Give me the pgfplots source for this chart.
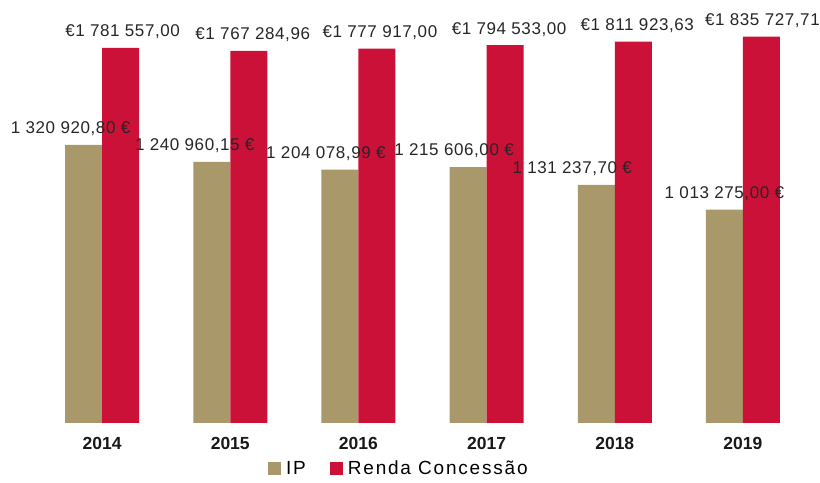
\documentclass[border=0pt]{standalone}
\usepackage{fontspec}
\setmainfont{Liberation Sans}
\newfontfamily\lblfont[LetterSpace=3.5]{Liberation Sans}
\newfontfamily\legfont[LetterSpace=9.5]{Liberation Sans}
\usepackage{pgfplots}
\usepackage{pgfplotstable}
\pgfplotsset{compat=1.18}
\definecolor{iptan}{HTML}{A8986A}
\definecolor{rendared}{HTML}{CC1139}

\pgfplotstableread[col sep=semicolon]{
x;y;lab;dx
0;1320920.80;1 320 920,80 €;-13
1;1240960.15;1 240 960,15 €;-17
2;1204078.99;1 204 078,99 €;-14
3;1215606.00;1 215 606,00 €;-14
4;1131237.70;1 131 237,70 €;-24
5;1013275.00;1 013 275,00 €;0
}\ipdata

\pgfplotstableread[col sep=semicolon]{
x;y;lab;dx
0;1781557.00;€1 781 557,00;2
1;1767284.96;€1 767 284,96;4
2;1777917.00;€1 777 917,00;3
3;1794533.00;€1 794 533,00;4
4;1811923.63;€1 811 923,63;4
5;1835727.71;€1 835 727,71;1
}\rendadata

\begin{document}
\begin{tikzpicture}
\begin{axis}[
  scale only axis,
  width=769pt, height=421pt,
  xmin=-0.5, xmax=5.5,
  ymin=0, ymax=2000000,
  ybar=0pt, bar width=37pt,
  axis line style={draw=none},
  ytick=\empty,
  xtick={0,1,2,3,4,5},
  xticklabels={\textbf{2014},\textbf{2015},\textbf{2016},\textbf{2017},\textbf{2018},\textbf{2019}},
  major tick length=0pt,
  xticklabel style={anchor=base, inner sep=0pt, yshift=-27pt, font=\fontsize{17.5}{20}\selectfont, text=black!90},
  clip=false,
  point meta=explicit symbolic,
  nodes near coords,
  visualization depends on={\thisrow{dx} \as \mydx},
  nodes near coords style={anchor=center, inner sep=0pt, yshift=16pt, xshift=\mydx pt, font=\lblfont\fontsize{17}{20}\selectfont, text=black!85},
  legend style={at={(0.468,-0.108)}, anchor=center, draw=none, legend columns=2,
    font=\legfont\fontsize{19}{22}\selectfont, inner sep=0pt,
    nodes={inner sep=0pt},
    /tikz/every odd column/.append style={column sep=5pt},
    /tikz/every even column/.append style={column sep=24pt}},
  legend image code/.code={\fill[#1] (0pt,-6.5pt) rectangle (13pt,6.5pt);},
]
\addplot[fill=iptan, draw=none] table[x=x, y=y, meta=lab] {\ipdata};
\addplot[fill=rendared, draw=none] table[x=x, y=y, meta=lab] {\rendadata};
\legend{IP, Renda Concessão}
\coordinate (ll) at (rel axis cs:0,0);
\coordinate (ur) at (rel axis cs:1,1);
\end{axis}
\pgfresetboundingbox
\path ([shift={(-38pt,-60pt)}]ll) rectangle ([shift={(13pt,2pt)}]ur);
\end{tikzpicture}
\end{document}
